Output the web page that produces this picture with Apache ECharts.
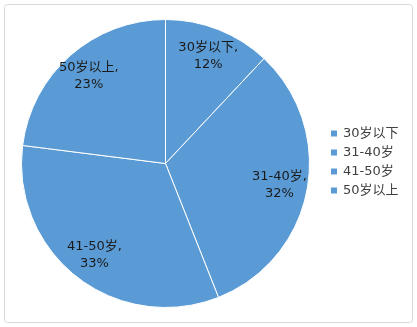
<!DOCTYPE html>
<html><head><meta charset="utf-8">
<script src="https://cdn.jsdelivr.net/npm/echarts@6/dist/echarts.min.js"></script>
<style>html,body{margin:0;padding:0;background:#fff}#c{width:417px;height:327px}</style>
</head><body><div id="c"></div>
<script>
const categories = ['30岁以下', '31-40岁', '41-50岁', '50岁以上'];
const values = [12, 32, 33, 23];
const blue = '#5b9bd5';
const font = '"DejaVu Sans","Noto Sans CJK SC",sans-serif';
const data = categories.map((c, i) => ({ name: c, value: values[i] }));
const chart = echarts.init(document.getElementById('c'), null, { renderer: 'canvas' });
chart.setOption({
  animation: false,
  graphic: [{ type: 'rect', shape: { x: 4.5, y: 4.5, width: 408, height: 318, r: 3 }, style: { fill: 'none', stroke: '#d9d9d9', lineWidth: 1 }, silent: true }],
  legend: {
    orient: 'vertical', left: 324, top: 122, itemWidth: 8, itemHeight: 8, itemGap: 6,
    icon: 'rect',
    textStyle: { fontFamily: font, fontSize: 13, color: '#404040' },
    data: categories.map(c => ({ name: c, itemStyle: { color: blue } }))
  },
  series: [
    {
      type: 'pie', center: [165.5, 163.5], radius: [0, 144], startAngle: 90, clockwise: true,
      silent: true, label: { show: false }, labelLine: { show: false },
      itemStyle: { color: blue, borderColor: '#fff', borderWidth: 1 },
      data: data
    },
    {
      type: 'pie', center: [165.5, 163.5], radius: [82, 144], startAngle: 90, clockwise: true,
      silent: true, legendHoverLink: false,
      itemStyle: { color: 'rgba(0,0,0,0)', borderWidth: 0 },
      label: { show: true, position: 'inside', formatter: '{b},\n{d}%', fontFamily: font, fontSize: 13, color: '#1a1a1a', lineHeight: 17, align: 'center' },
      labelLine: { show: false },
      data: data
    }
  ]
});
</script></body></html>
